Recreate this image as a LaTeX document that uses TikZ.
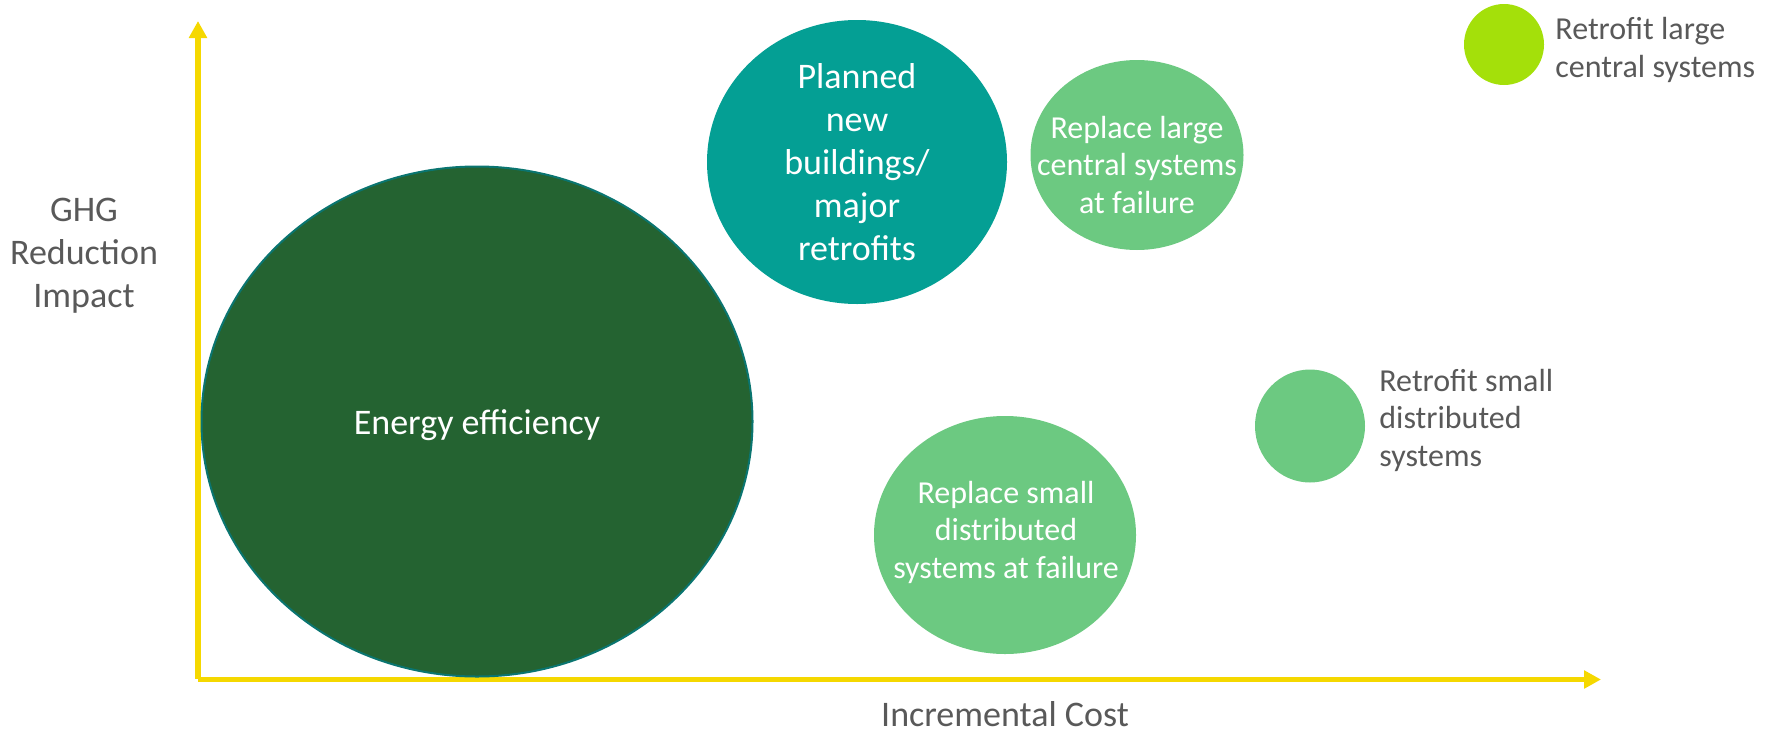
\documentclass[tikz,border=0pt]{standalone}
\usepackage{fontspec}
\setmainfont{Carlito}
\usetikzlibrary{arrows.meta,shapes.geometric}

\definecolor{axisyellow}{HTML}{F5D800}
\definecolor{labelgray}{HTML}{595959}
\definecolor{effgreen}{HTML}{246331}
\definecolor{effedge}{HTML}{0A7570}
\definecolor{tealfill}{HTML}{049F94}
\definecolor{softgreen}{HTML}{6CC981}
\definecolor{limefill}{HTML}{A4E00A}

\begin{document}
\begin{tikzpicture}[x=0.5pt,y=-0.5pt,
  axisline/.style={draw=axisyellow,line width=2.85pt,
    -{Triangle[length=8.5pt,width=8.7pt]}},
  bubble/.style={ellipse,inner sep=0pt,outer sep=0pt},
  bigtext/.style={font=\fontsize{18}{21.5}\selectfont},
  smalltext/.style={font=\fontsize{16}{18.75}\selectfont},
  % multi-line nodes are placed by the baseline of their last line
  inlabel/.style={text=white,inner sep=0pt,align=center,anchor=base},
  sidelabel/.style={text=labelgray,inner sep=0pt,align=left,anchor=base west},
  axislabel/.style={text=labelgray,inner sep=0pt,align=center,anchor=base,bigtext}]
\useasboundingbox (0,0) rectangle (1772,734);

% axes
\coordinate (yaxisfoot) at (198,679);
\coordinate (yaxistip) at (198,21);
\coordinate (xaxisfoot) at (198,679.5);
\coordinate (xaxistip) at (1601,679.5);
\draw[axisline] (yaxisfoot) -- (yaxistip);
\draw[axisline] (xaxisfoot) -- (xaxistip);

\node[axislabel] (ylabel) at (84,307) {GHG\\Reduction\\Impact};
\node[axislabel] (xlabel) at (1005,726) {Incremental Cost};

% bubbles
\node[bubble,fill=effgreen,draw=effedge,line width=1pt,
  minimum width=275.5pt,minimum height=255pt] (eff) at (477,421.5) {};
\node[bubble,fill=tealfill,minimum width=150pt,minimum height=142pt]
  (planned) at (857,162) {};
\node[bubble,fill=softgreen,minimum width=106.5pt,minimum height=95pt]
  (replarge) at (1137,155) {};
\node[bubble,fill=limefill,minimum width=40pt,minimum height=40.5pt]
  (retlarge) at (1504,44.5) {};
\node[bubble,fill=softgreen,minimum width=55pt,minimum height=56.5pt]
  (retsmall) at (1310,426) {};
\node[bubble,fill=softgreen,minimum width=131pt,minimum height=119pt]
  (repsmall) at (1005,535) {};

% bubble texts
\node[inlabel,bigtext] (efftext) at (477,434) {Energy efficiency};
\node[inlabel,bigtext] (plannedtext) at (857,260)
  {Planned\\new\\buildings/\\major\\retrofits};
\node[inlabel,smalltext] (replargetext) at (1137,213)
  {Replace large\\central systems\\at failure};
\node[inlabel,smalltext] (repsmalltext) at (1006,578)
  {Replace small\\distributed\\systems at failure};

% labels beside the small bubbles
\node[sidelabel,smalltext] (retlargetext) at (1555,77)
  {Retrofit large\\central systems};
\node[sidelabel,smalltext] (retsmalltext) at (1379,466)
  {Retrofit small\\distributed\\systems};
\end{tikzpicture}
\end{document}
